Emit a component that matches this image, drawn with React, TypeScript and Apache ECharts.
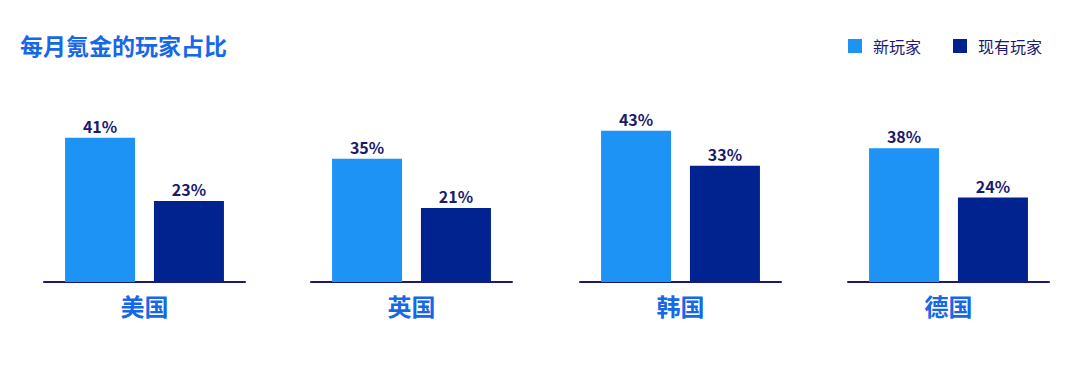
import React, { useEffect, useRef } from "react";
import * as echarts from "echarts";

const countries = ["美国", "英国", "韩国", "德国"];
const newPlayers = [41, 35, 43, 38];
const existingPlayers = [23, 21, 33, 24];
const seriesNames = ["新玩家", "现有玩家"];
const title = "每月氪金的玩家占比";

const LIGHT = "#1e93f6";
const DARK = "#00238f";
const NAVY = "#1b1a6e";
const BLUE_TEXT = "#1668e8";
const FONT = "'Noto Sans CJK SC', 'Noto Sans', sans-serif";

const gridLefts = [44, 311, 580, 848];

export default function App() {
  const ref = useRef<HTMLDivElement>(null);

  useEffect(() => {
    document.body.style.margin = "0";
    const chart = echarts.init(ref.current!, null, { renderer: "svg" });

    const grids = countries.map((_, i) => ({
      left: gridLefts[i],
      width: 201,
      top: 106,
      height: 176,
    }));
    const xAxes = countries.map((c, i) => ({
      type: "category",
      gridIndex: i,
      data: [c],
      axisLine: { show: true, lineStyle: { color: NAVY, width: 2 } },
      axisTick: { show: false },
      axisLabel: {
        margin: 11,
        color: BLUE_TEXT,
        fontSize: 24,
        fontWeight: "bold",
        fontFamily: FONT,
      },
    }));
    const yAxes = countries.map((_, i) => ({
      type: "value",
      gridIndex: i,
      min: 0,
      max: 50,
      show: false,
      splitLine: { show: false },
    }));
    const label = {
      show: true,
      position: "top",
      distance: 4,
      formatter: "{c}%",
      color: NAVY,
      fontSize: 16,
      fontWeight: "bold",
      fontFamily: FONT,
    };
    const series: any[] = [];
    countries.forEach((_, i) => {
      series.push({
        type: "bar",
        name: seriesNames[0],
        xAxisIndex: i,
        yAxisIndex: i,
        data: [newPlayers[i]],
        barWidth: 70,
        barGap: "27%",
        itemStyle: { color: LIGHT },
        label,
      });
      series.push({
        type: "bar",
        name: seriesNames[1],
        xAxisIndex: i,
        yAxisIndex: i,
        data: [existingPlayers[i]],
        barWidth: 70,
        barGap: "27%",
        itemStyle: { color: DARK },
        label,
      });
    });

    chart.setOption({
      animation: false,
      title: {
        text: title,
        left: 15,
        top: 28,
        textStyle: {
          color: BLUE_TEXT,
          fontSize: 23,
          fontWeight: "bold",
          fontFamily: FONT,
        },
      },
      legend: {
        data: [
          { name: seriesNames[0], itemStyle: { color: LIGHT } },
          { name: seriesNames[1], itemStyle: { color: DARK } },
        ],
        right: 33,
        top: 33,
        icon: "rect",
        itemWidth: 14,
        itemHeight: 14,
        itemGap: 32,
        textStyle: {
          color: NAVY,
          fontSize: 16,
          fontFamily: FONT,
          padding: [0, 0, 0, 6],
        },
      },
      grid: grids,
      xAxis: xAxes,
      yAxis: yAxes,
      series,
    });

    return () => chart.dispose();
  }, []);

  return <div ref={ref} style={{ width: 1080, height: 371 }} />;
}
